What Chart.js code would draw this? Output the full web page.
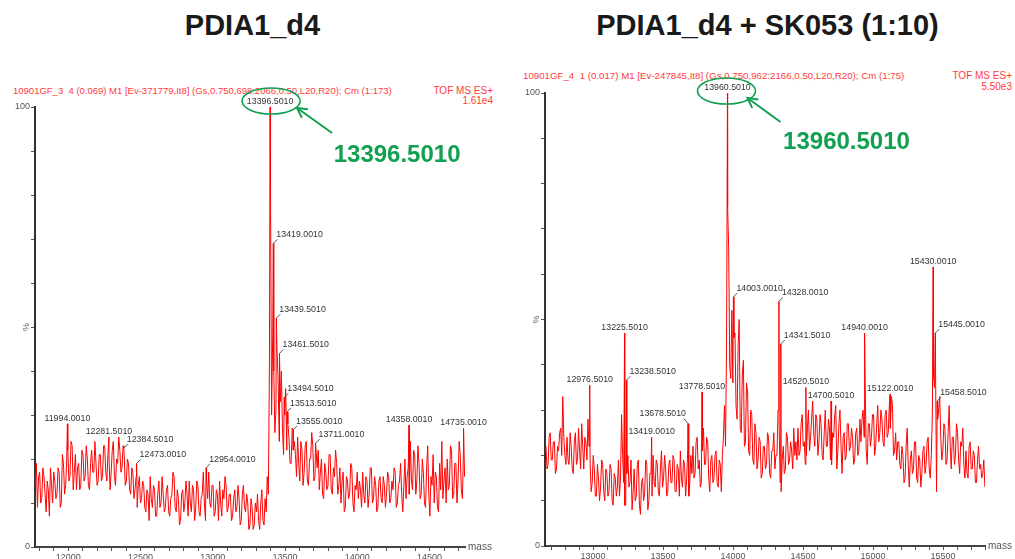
<!DOCTYPE html>
<html>
<head>
<meta charset="utf-8">
<script src="https://cdn.jsdelivr.net/npm/chart.js@4.4.1/dist/chart.umd.min.js"></script>
<style>
  body { margin:0; background:#fff; width:1015px; height:559px; overflow:hidden; position:relative; font-family: Arial, "Liberation Sans", sans-serif; }
  .title { position:absolute; top:11px; width:505px; text-align:center; font-weight:bold; font-size:29px; line-height:29px; color:#1a1a1a; }
  .hdr { position:absolute; font-size:10px; line-height:10px; color:#ff3b3b; white-space:pre; }
  canvas { position:absolute; top:0; }
</style>
</head>
<body>
<div class="title" style="left:0">PDIA1_d4</div>
<div class="title" style="left:515px">PDIA1_d4 + SK053 (1:10)</div>

<div class="hdr" data-w="379" style="left:13px; top:86px">10901GF_3  4 (0.069) M1 [Ev-371779,It8] (Gs,0.750,698:2066,0.50,L20,R20); Cm (1:173)</div>
<div class="hdr" style="right:522px; top:86px; text-align:right">TOF MS ES+</div>
<div class="hdr" style="right:522px; top:96px; text-align:right">1.61e4</div>

<div class="hdr" data-w="382" style="left:523px; top:71px">10901GF_4  1 (0.017) M1 [Ev-247845,It8] (Gs,0.750,962:2166,0.50,L20,R20); Cm (1:75)</div>
<div class="hdr" style="right:3px; top:71px; text-align:right">TOF MS ES+</div>
<div class="hdr" style="right:3px; top:82px; text-align:right">5.50e3</div>

<canvas id="left" width="505" height="559" style="left:0"></canvas>
<canvas id="right" width="505" height="559" style="left:510px"></canvas>

<script>
// sampled spectrum: intensity (%) every 7.5 Da, plus labelled centroid peaks
const step = 7.5;

const leftStart = 11772;
const leftNoise = [
  14, 19, 9, 16, 17, 10, 11, 18, 16, 12, 8, 15, 13, 7, 18, 14, 10, 17, 15, 11,
  12, 18, 17, 9, 10, 21, 19, 12, 14, 20, 22, 15, 16, 24, 23, 13, 17, 21, 13, 18,
  19, 13, 14, 22, 21, 15, 16, 23, 20, 14, 13, 19, 22, 17, 17, 24, 19, 14, 15, 21,
  21, 15, 16, 23, 23, 17, 15, 21, 20, 13, 17, 22, 24, 16, 14, 20, 19, 25, 22, 17,
  18, 23, 21, 14, 15, 20, 19, 13, 12, 18, 17, 11, 13, 16, 9, 14, 16, 10, 11, 15,
  14, 9, 8, 13, 12, 6, 16, 11, 9, 14, 13, 7, 7, 12, 15, 9, 10, 16, 12, 8,
  9, 13, 14, 8, 7, 11, 12, 17, 16, 9, 8, 13, 11, 5, 6, 12, 13, 8, 10, 15,
  12, 7, 15, 10, 8, 14, 13, 6, 9, 15, 14, 8, 7, 11, 12, 17, 10, 6, 15, 11,
  17, 10, 9, 14, 14, 7, 8, 13, 12, 6, 15, 10, 7, 13, 11, 16, 14, 8, 9, 12,
  12, 6, 7, 11, 13, 8, 9, 14, 11, 5, 6, 12, 14, 9, 8, 12, 10, 4, 5, 11,
  9, 4, 5, 10, 8, 12, 6, 4, 10, 13, 6, 5, 11, 8, 16, 12, 42, 80, 30, 48,
  40, 26, 31, 45, 38, 24, 33, 40, 27, 21, 30, 36, 22, 28, 25, 19, 19, 27, 22, 24,
  21, 16, 25, 19, 15, 24, 22, 14, 17, 23, 24, 15, 14, 20, 20, 26, 23, 15, 16, 22,
  18, 22, 13, 17, 20, 12, 11, 19, 17, 13, 14, 21, 21, 13, 12, 18, 16, 22, 19, 12,
  14, 18, 10, 15, 17, 8, 9, 16, 15, 11, 12, 19, 18, 10, 8, 14, 13, 17, 11, 15,
  13, 9, 17, 12, 10, 16, 15, 9, 12, 18, 18, 10, 11, 16, 14, 8, 9, 15, 16, 11,
  10, 16, 14, 9, 12, 17, 16, 10, 11, 15, 13, 18, 17, 9, 10, 14, 15, 19, 12, 8,
  14, 20, 11, 16, 18, 12, 24, 15, 13, 22, 21, 12, 15, 23, 19, 11, 12, 20, 17, 10,
  9, 18, 23, 12, 7, 16, 14, 21, 10, 17, 16, 9, 8, 19, 13, 24, 11, 15, 18, 10,
  20, 13, 14, 23, 22, 11, 12, 19, 19, 10, 15, 24, 21, 13, 11, 22, 16
];
const leftPeakMass = [11994.0, 12281.5, 12384.5, 12473.0, 12954.0, 13396.5, 13419.0, 13439.5,
                      13461.5, 13494.5, 13513.5, 13555.0, 13711.0, 14358.0, 14735.0];
const leftPeakInt = [28, 25, 22.5, 19, 18, 100, 69, 52, 44, 34, 30.7, 26.6, 23.6, 27.7, 27];

const rightStart = 12664;
const rightNoise = [
  22, 17, 18, 24, 25, 19, 19, 23, 23, 16, 17, 22, 21, 25, 26, 20, 33, 24, 20, 18,
  24, 19, 18, 25, 22, 17, 16, 23, 25, 18, 19, 26, 21, 17, 27, 22, 17, 24, 23, 19,
  28, 22, 19, 12, 14, 20, 17, 11, 11, 18, 15, 10, 13, 19, 18, 12, 10, 17, 16, 11,
  12, 18, 17, 10, 9, 16, 15, 11, 13, 19, 11, 15, 29, 20, 14, 9, 9, 16, 20, 13,
  14, 19, 8, 12, 17, 10, 11, 18, 19, 9, 7, 14, 15, 10, 12, 19, 18, 8, 10, 16,
  16, 11, 20, 14, 13, 19, 18, 12, 11, 17, 21, 13, 15, 20, 17, 11, 12, 18, 19, 14,
  14, 20, 19, 12, 12, 18, 17, 11, 21, 15, 13, 19, 18, 11, 15, 21, 11, 14, 20, 16,
  22, 15, 16, 23, 24, 17, 19, 13, 14, 21, 26, 18, 18, 24, 23, 15, 12, 19, 20, 14,
  15, 20, 21, 14, 13, 19, 18, 12, 20, 24, 31, 22, 45, 75, 66, 40, 37, 52, 36, 46,
  47, 31, 28, 44, 50, 26, 25, 38, 41, 22, 23, 36, 34, 21, 20, 30, 29, 19, 18, 27,
  25, 17, 19, 24, 23, 15, 16, 22, 22, 17, 18, 25, 24, 16, 15, 21, 21, 25, 17, 20,
  20, 30, 28, 14, 12, 19, 22, 16, 17, 25, 24, 18, 19, 23, 21, 17, 26, 20, 23, 19,
  26, 20, 21, 27, 29, 22, 23, 18, 20, 26, 30, 21, 24, 28, 32, 25, 22, 29, 28, 20,
  23, 29, 27, 20, 19, 25, 30, 22, 22, 28, 26, 19, 18, 25, 24, 29, 31, 17, 21, 27,
  30, 22, 16, 24, 25, 19, 20, 27, 27, 21, 22, 26, 24, 18, 19, 25, 26, 20, 21, 28,
  23, 28, 30, 24, 36, 21, 18, 27, 27, 22, 24, 29, 29, 20, 22, 27, 31, 23, 25, 30,
  28, 23, 22, 29, 30, 24, 25, 31, 26, 33, 31, 20, 21, 25, 19, 23, 23, 18, 17, 22,
  20, 14, 15, 22, 26, 18, 13, 19, 21, 16, 17, 23, 23, 15, 14, 20, 19, 13, 16, 21,
  22, 16, 18, 23, 24, 17, 15, 20, 29, 38, 35, 40, 12, 28, 30, 33, 24, 19, 21, 27,
  26, 18, 19, 25, 31, 22, 17, 24, 24, 18, 20, 27, 25, 19, 16, 23, 22, 26, 18, 15,
  21, 16, 15, 22, 23, 17, 17, 21, 20, 14, 14, 19, 22, 17, 18, 15, 16, 19, 13
];
const rightPeakMass = [12976.5, 13225.5, 13238.5, 13419.0, 13678.5, 13778.5, 13960.5, 14003.0, 14328.0,
                       14341.5, 14520.5, 14700.5, 14940.0, 15122.0, 15430.0, 15445.0, 15458.5];
const rightPeakInt = [35.5, 47, 36.6, 24, 27, 34, 100, 55, 54, 44.6, 35, 32, 47, 33.5, 61.6, 47, 32];

const massLabelEvery = 500;
const yTickLabels = [0, 100];

// where each peak label sits: c = above, r = right with leader, l = left with leader
const leftLabelSide = ['c','c','r','r','r','c','r','r','r','r','r','r','r','c','c'];
const rightLabelSide = ['c','c','r','c','l','c','c','r','r','r','c','c','c','c','c','r','r'];

const green = '#10a050';

// squeeze the long red header lines to the width they have in the original
document.querySelectorAll('.hdr[data-w]').forEach(d => {
  const w = d.getBoundingClientRect().width;
  d.style.fontSize = (10 * d.dataset.w / w) + 'px';
});

function buildSeries(start, noise, pm, pi) {
  const pts = noise.map((v, i) => ({x: start + i * step, y: v}));
  pm.forEach((m, i) => pts.push({x: m, y: pi[i]}));
  pts.sort((a, b) => a.x - b.x);
  return pts;
}

const peakPlugin = {
  id: 'peakLabels',
  afterDatasetsDraw(chart, args, o) {
    const {ctx, chartArea: a, scales: {x, y}} = chart;
    ctx.save();
    ctx.font = '8.8px Arial, "Liberation Sans"';
    ctx.fillStyle = '#333';
    ctx.strokeStyle = '#555';
    ctx.lineWidth = 1;
    ctx.textBaseline = 'bottom';
    let mainC;
    o.masses.forEach((m, i) => {
      const px = x.getPixelForValue(m), py = y.getPixelForValue(o.ints[i]);
      const t = m.toFixed(1) + '010';
      const side = o.sides[i];
      if (side === 'c') {
        ctx.textAlign = 'center';
        ctx.fillText(t, px, py - 1);
      } else if (side === 'r') {
        ctx.beginPath(); ctx.moveTo(px, py); ctx.lineTo(px + 4, py - 4); ctx.stroke();
        ctx.textAlign = 'left';
        ctx.fillText(t, px + 3, py - 4);
      } else {
        ctx.beginPath(); ctx.moveTo(px, py); ctx.lineTo(px - 4, py - 5); ctx.stroke();
        ctx.textAlign = 'right';
        ctx.fillText(t, px - 2, py - 6);
      }
      if (i === o.main) mainC = {x: px, y: py - 6};
    });

    // axis captions
    ctx.fillStyle = '#555';
    ctx.font = '10px Arial, "Liberation Sans"';
    ctx.textAlign = 'left';
    ctx.textBaseline = 'middle';
    ctx.fillText('mass', a.right + 3, a.bottom);
    ctx.save();
    ctx.translate(a.left - 8, y.getPixelForValue(50));
    ctx.rotate(-Math.PI / 2);
    ctx.font = '9px Arial, "Liberation Sans"';
    ctx.textAlign = 'center';
    ctx.fillText('%', 0, 0);
    ctx.restore();

    // highlight of the main peak
    const g = o.hl;
    ctx.strokeStyle = green;
    ctx.lineWidth = 1.6;
    ctx.beginPath();
    ctx.ellipse(mainC.x + g.ell[0], mainC.y + g.ell[1], 29, 13, 0, 0, Math.PI * 2);
    ctx.stroke();
    const tx = mainC.x + g.tip[0], ty = mainC.y + g.tip[1];
    const sx = mainC.x + g.tail[0], sy = mainC.y + g.tail[1];
    ctx.lineWidth = 2;
    ctx.beginPath(); ctx.moveTo(sx, sy); ctx.lineTo(tx, ty); ctx.stroke();
    const ang = Math.atan2(sy - ty, sx - tx);
    ctx.beginPath();
    ctx.moveTo(tx + 11 * Math.cos(ang + 0.5), ty + 11 * Math.sin(ang + 0.5));
    ctx.lineTo(tx, ty);
    ctx.lineTo(tx + 11 * Math.cos(ang - 0.5), ty + 11 * Math.sin(ang - 0.5));
    ctx.stroke();
    ctx.fillStyle = green;
    ctx.font = 'bold 24px Arial, "Liberation Sans"';
    ctx.textAlign = 'center';
    ctx.textBaseline = 'middle';
    ctx.fillText(o.masses[o.main].toFixed(1) + '010', mainC.x + g.text[0], mainC.y + g.text[1]);
    ctx.restore();
  }
};

function makeChart(id, pts, xmin, xmax, pad, xh, peaks) {
  return new Chart(document.getElementById(id), {
    type: 'line',
    data: {
      datasets: [{
        data: pts,
        borderColor: '#ff0000',
        borderWidth: 1,
        pointRadius: 0,
        tension: 0,
        fill: false
      }]
    },
    options: {
      responsive: false,
      animation: false,
      devicePixelRatio: 1,
      events: [],
      parsing: false,
      layout: {padding: pad},
      plugins: {legend: {display: false}, tooltip: {enabled: false}, peakLabels: peaks},
      scales: {
        x: {
          type: 'linear', min: xmin, max: xmax,
          afterFit(s) { s.height = xh; },
          border: {color: '#444', width: 2},
          grid: {drawOnChartArea: false, tickLength: 4, color: '#555'},
          ticks: {
            stepSize: 100, autoSkip: false, includeBounds: false, maxRotation: 0, padding: 1,
            color: '#555', font: {size: 9, family: 'Arial, "Liberation Sans"'},
            callback: v => (v % massLabelEvery === 0 ? v : '')
          }
        },
        y: {
          min: 0, max: 100,
          afterFit(s) { s.width = 35; },
          border: {color: '#333', width: 2},
          grid: {drawOnChartArea: false, tickLength: 4, color: '#555'},
          ticks: {
            stepSize: 10, padding: 1, color: '#555',
            font: {size: 9, family: 'Arial, "Liberation Sans"'},
            callback: v => (yTickLabels.includes(v) ? v : '')
          }
        }
      }
    },
    plugins: [peakPlugin]
  });
}

makeChart('left', buildSeries(leftStart, leftNoise, leftPeakMass, leftPeakInt),
  11770, 14745, {left: 0, right: 40, top: 107, bottom: 0}, 12,
  {masses: leftPeakMass, ints: leftPeakInt, sides: leftLabelSide, main: 5,
   hl: {ell: [1, 0], tip: [27, 7], tail: [62, 32], text: [127, 54]}});

makeChart('right', buildSeries(rightStart, rightNoise, rightPeakMass, rightPeakInt),
  12657, 15800, {left: 0, right: 30, top: 93, bottom: 0}, 13,
  {masses: rightPeakMass, ints: rightPeakInt, sides: rightLabelSide, main: 6,
   hl: {ell: [-1, 4], tip: [20, 11], tail: [53, 35], text: [119, 55]}});
</script>
</body>
</html>
